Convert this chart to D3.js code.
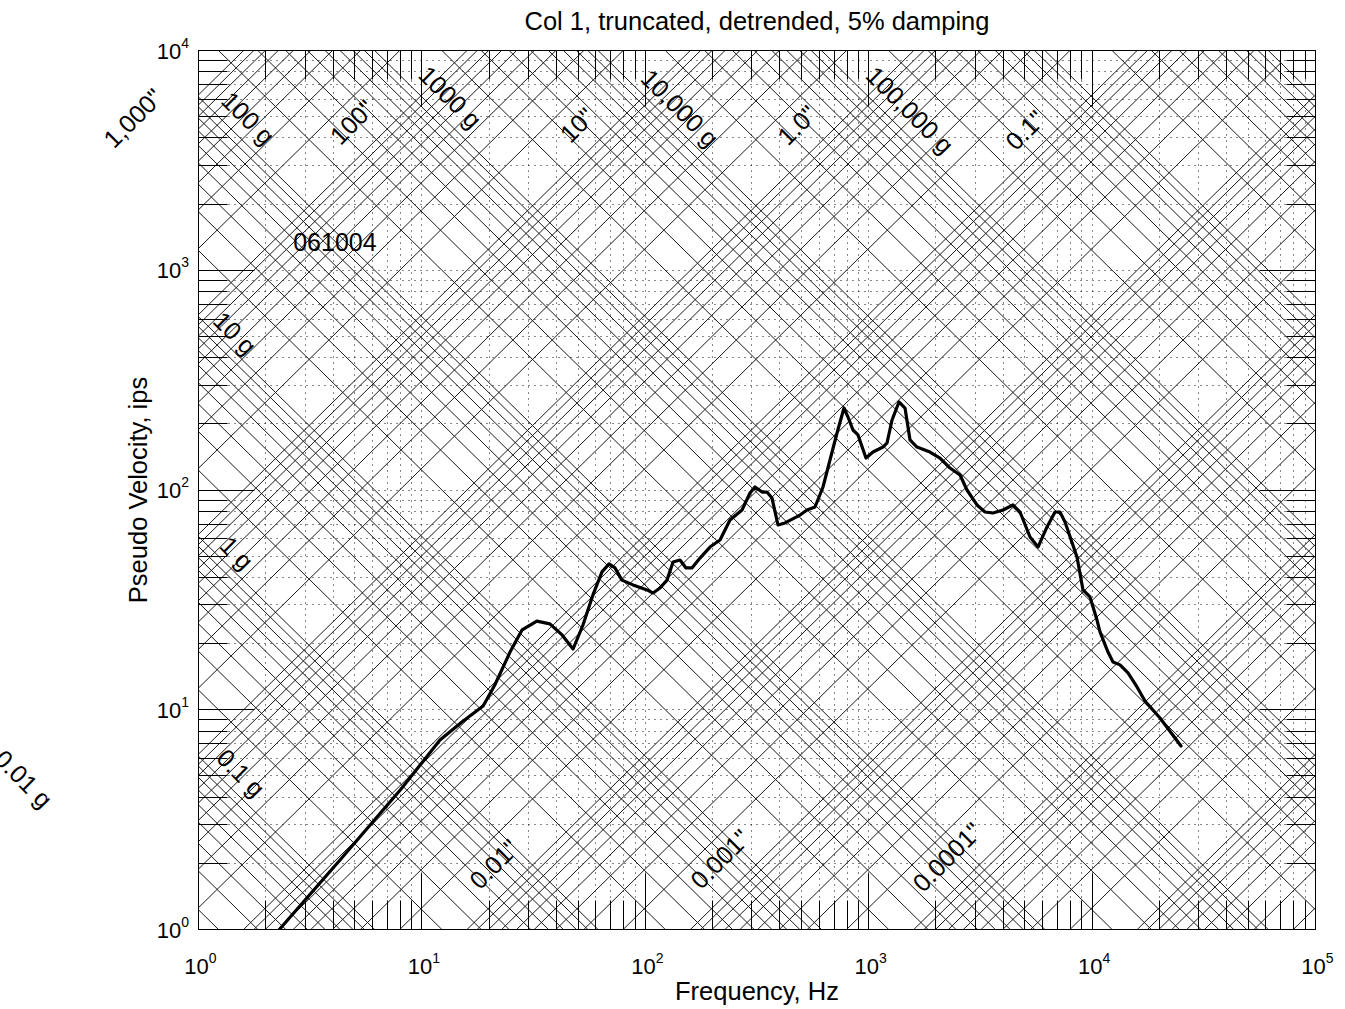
<!DOCTYPE html>
<html>
<head>
<meta charset="utf-8">
<script src="https://cdn.jsdelivr.net/npm/d3@7"></script>
<style>
  body { margin: 0; background: #fff; }
  svg { display: block; }
  text { font-family: "Liberation Sans", Arial, sans-serif; fill: #000; }
</style>
</head>
<body>
<svg id="chart" width="1345" height="1009"></svg>
<script>
// ---- text ----
const titleText = "Col 1, truncated, detrended, 5% damping";
const xAxisLabel = "Frequency, Hz";
const yAxisLabel = "Pseudo Velocity, ips";
const runId = "061004";

// ---- shock response spectrum (pseudo velocity, 5% damping) ----
const freqHz = [2.3, 4.3, 8.0, 12.05, 15.1, 18.8, 21.2, 24.8, 28.1, 32.7, 37.4, 42.4, 47.5,
  52.6, 58.3, 64.0, 68.8, 73.2, 78.6, 88.1, 101.8, 108.3, 116.4, 125.1, 133.1, 143, 152.1,
  161.8, 175.7, 194.8, 216, 239.4, 271, 294.2, 309.8, 333.1, 350.5, 369.1, 392.6, 422,
  492.6, 529.5, 575, 624.3, 671, 721.3, 775.2, 807.8, 850.5, 895.5, 972.5, 1045, 1159,
  1208, 1272, 1366, 1454, 1531, 1645, 1881, 2085, 2312, 2563, 2754, 3053, 3316, 3601,
  3993, 4425, 4757, 5275, 5727, 6283, 6822, 7182, 7563, 8558, 9106, 9786, 10517, 10849,
  11780, 12405, 13333, 14477, 15888, 17252, 20137, 25000];
const pvIps = [1.0, 2.07, 4.31, 7.28, 8.8, 10.4, 12.96, 18.3, 23.1, 25.3, 24.6, 21.9, 18.9,
  24.3, 33.3, 42.4, 46.1, 44.2, 38.9, 37.0, 35.1, 34.0, 35.8, 38.9, 47.0, 48.0, 44.2,
  44.2, 49.0, 55.0, 59.2, 73.0, 81.1, 96.9, 103.2, 97.9, 97.9, 91.9, 69.3, 70.8,
  76.9, 81.1, 83.7, 103.2, 136.9, 181.7, 236.1, 214.8, 187.5, 178.0, 139.8, 148.9, 156.9,
  163.7, 208.2, 251.5, 236.1, 168.9, 156.9, 148.9, 139.8, 125.9, 117.0, 100, 85.5, 79.4, 78.6,
  81.1, 85.5, 79.4, 61.1, 55.0, 67.9, 79.4, 79.4, 71.5, 49.6, 35.1, 32.6, 25.6, 22.6,
  18.3, 16.5, 16.0, 14.7, 12.7, 10.96, 9.17, 6.84];

// ---- axes ----
const xDecadeExps = [0, 1, 2, 3, 4, 5];
const yDecadeExps = [0, 1, 2, 3, 4];
const mantissas = [1, 2, 3, 4, 5, 6, 7, 8, 9];

// ---- tripartite grid: constant acceleration (g) and displacement (in) lines ----
const accelDecadesG = [0.01, 0.1, 1, 10, 100, 1000, 1e4, 1e5, 1e6];
const accelTopG = 1e7;
const dispDecadesIn = [1e-6, 1e-5, 1e-4, 1e-3, 0.01, 0.1, 1, 10, 100, 1000];
const dispTopIn = 1e4;

// label text and the (frequency, velocity) point each one is centred on
const accelLabelText = ["100,000 g", "10,000 g", "1000 g", "100 g", "10 g", "1 g", "0.1 g", "0.01 g"];
const accelLabelF    = [1531, 143, 13.4, 1.67, 1.457, 1.487, 1.55, 0.165];
const accelLabelV    = [5360, 5473, 6140, 4930, 518, 51.7, 5.16, 4.85];
const dispLabelText  = ["1,000\"", "100\"", "10\"", "1.0\"", "0.1\"", "0.01\"", "0.001\"", "0.0001\""];
const dispLabelF     = [0.509, 4.87, 49.5, 477.6, 5007, 21.0, 216, 2241];
const dispLabelV     = [4930, 4730, 4581, 4581, 4347, 1.987, 2.094, 2.138];
const runIdF = 4.08, runIdV = 1345;

const G_IN = 386.09;               // in/s^2 per g
const TWO_PI = 2 * Math.PI;

(function draw() {
  const svg = d3.select("#chart");
  const pLeft = 198.5, pRight = 1315.5, pTop = 50.5, pBottom = 929.5;

  const x = d3.scaleLog().domain([1, 1e5]).range([pLeft, pRight]);
  const y = d3.scaleLog().domain([1, 1e4]).range([pBottom, pTop]);

  svg.append("rect").attr("width", 1345).attr("height", 1009).attr("fill", "#fff");

  svg.append("defs").append("clipPath").attr("id", "plotClip")
    .append("rect").attr("x", pLeft).attr("y", pTop)
    .attr("width", pRight - pLeft).attr("height", pBottom - pTop);

  // every tick value (majors and minors)
  const xTicks = [];
  xDecadeExps.forEach(e => mantissas.forEach(m => { const v = m * Math.pow(10, e); if (v <= 1e5 * 1.0001) xTicks.push({ v, major: m === 1 }); }));
  const yTicks = [];
  yDecadeExps.forEach(e => mantissas.forEach(m => { const v = m * Math.pow(10, e); if (v <= 1e4 * 1.0001) yTicks.push({ v, major: m === 1 }); }));
  const snap = p => Math.round(p - 0.5) + 0.5;

  // dotted grid
  const grid = svg.append("g").attr("stroke", "#111").attr("stroke-width", 1)
    .attr("stroke-dasharray", "1,5").attr("fill", "none");
  xTicks.forEach(t => {
    const px = snap(x(t.v));
    grid.append("line").attr("x1", px).attr("x2", px).attr("y1", pTop).attr("y2", pBottom);
  });
  yTicks.forEach(t => {
    const py = snap(y(t.v));
    grid.append("line").attr("y1", py).attr("y2", py).attr("x1", pLeft).attr("x2", pRight);
  });

  // diagonal grid
  const diag = svg.append("g").attr("clip-path", "url(#plotClip)")
    .attr("stroke", "#1a1a1a").attr("stroke-width", 1).attr("fill", "none");

  const accelValues = [];
  accelDecadesG.forEach(d => mantissas.forEach(m => accelValues.push(m * d)));
  accelValues.push(accelTopG);
  const dispValues = [];
  dispDecadesIn.forEach(d => mantissas.forEach(m => dispValues.push(m * d)));
  dispValues.push(dispTopIn);

  const accelMin = d3.min(accelValues), accelMax = d3.max(accelValues);
  const dispMin = d3.min(dispValues), dispMax = d3.max(dispValues);
  const c = G_IN / TWO_PI;

  // constant acceleration: V = c*A/f, spanning the displacement range
  accelValues.forEach(A => {
    const f1 = Math.sqrt(c * A / (TWO_PI * dispMax));
    const f2 = Math.sqrt(c * A / (TWO_PI * dispMin));
    diag.append("line")
      .attr("x1", x(f1)).attr("y1", y(c * A / f1))
      .attr("x2", x(f2)).attr("y2", y(c * A / f2));
  });
  // constant displacement: V = 2*pi*f*D, spanning the acceleration range
  dispValues.forEach(D => {
    const f1 = Math.sqrt(c * accelMin / (TWO_PI * D));
    const f2 = Math.sqrt(c * accelMax / (TWO_PI * D));
    diag.append("line")
      .attr("x1", x(f1)).attr("y1", y(TWO_PI * f1 * D))
      .attr("x2", x(f2)).attr("y2", y(TWO_PI * f2 * D));
  });

  // spectrum curve
  const pts = freqHz.map((f, i) => [f, pvIps[i]]);
  svg.append("path").datum(pts)
    .attr("clip-path", "url(#plotClip)")
    .attr("fill", "none").attr("stroke", "#000").attr("stroke-width", 3.2)
    .attr("stroke-linejoin", "round").attr("stroke-linecap", "round")
    .attr("d", d3.line().x(d => x(d[0])).y(d => y(d[1])));

  // ticks on all four sides
  const majorLen = 56, minorLen = 29;
  const ticks = svg.append("g").attr("stroke", "#000").attr("stroke-width", 1);
  xTicks.forEach(t => {
    const px = snap(x(t.v));
    const L = t.major ? majorLen : minorLen;
    ticks.append("line").attr("x1", px).attr("x2", px).attr("y1", pBottom).attr("y2", pBottom - L);
    ticks.append("line").attr("x1", px).attr("x2", px).attr("y1", pTop).attr("y2", pTop + L);
  });
  yTicks.forEach(t => {
    const py = snap(y(t.v));
    const L = t.major ? majorLen : minorLen;
    ticks.append("line").attr("y1", py).attr("y2", py).attr("x1", pLeft).attr("x2", pLeft + L);
    ticks.append("line").attr("y1", py).attr("y2", py).attr("x1", pRight).attr("x2", pRight - L);
  });

  // box
  svg.append("rect").attr("x", pLeft).attr("y", pTop)
    .attr("width", pRight - pLeft).attr("height", pBottom - pTop)
    .attr("fill", "none").attr("stroke", "#000").attr("stroke-width", 1);

  // tick labels
  xDecadeExps.forEach(e => {
    const t = svg.append("text").attr("x", x(Math.pow(10, e)) + 2).attr("y", 974)
      .attr("text-anchor", "middle");
    t.append("tspan").attr("font-size", 22).text("10");
    t.append("tspan").attr("font-size", 14).attr("dy", -11).text(e);
  });
  yDecadeExps.forEach(e => {
    const t = svg.append("text").attr("x", 189).attr("y", y(Math.pow(10, e)) + 8)
      .attr("text-anchor", "end");
    t.append("tspan").attr("font-size", 22).text("10");
    t.append("tspan").attr("font-size", 14).attr("dy", -11).text(e);
  });

  // titles
  svg.append("text").attr("x", (pLeft + pRight) / 2).attr("y", 30)
    .attr("text-anchor", "middle").attr("font-size", 25.5).text(titleText);
  svg.append("text").attr("x", (pLeft + pRight) / 2).attr("y", 1000)
    .attr("text-anchor", "middle").attr("font-size", 25.5).text(xAxisLabel);
  svg.append("text").attr("transform", `translate(147,${(pTop + pBottom) / 2}) rotate(-90)`)
    .attr("text-anchor", "middle").attr("font-size", 25.5).text(yAxisLabel);

  svg.append("text").attr("x", x(runIdF)).attr("y", y(runIdV))
    .attr("text-anchor", "middle").attr("dominant-baseline", "central")
    .attr("font-size", 25).text(runId);

  // diagonal labels
  accelLabelText.forEach((s, i) => {
    const px = x(accelLabelF[i]), py = y(accelLabelV[i]);
    svg.append("text").attr("transform", `translate(${px},${py}) rotate(45)`)
      .attr("text-anchor", "middle").attr("dominant-baseline", "central")
      .attr("font-size", 25).text(s);
  });
  dispLabelText.forEach((s, i) => {
    const px = x(dispLabelF[i]), py = y(dispLabelV[i]);
    svg.append("text").attr("transform", `translate(${px},${py}) rotate(-45)`)
      .attr("text-anchor", "middle").attr("dominant-baseline", "central")
      .attr("font-size", 25).text(s);
  });
})();
</script>
</body>
</html>
